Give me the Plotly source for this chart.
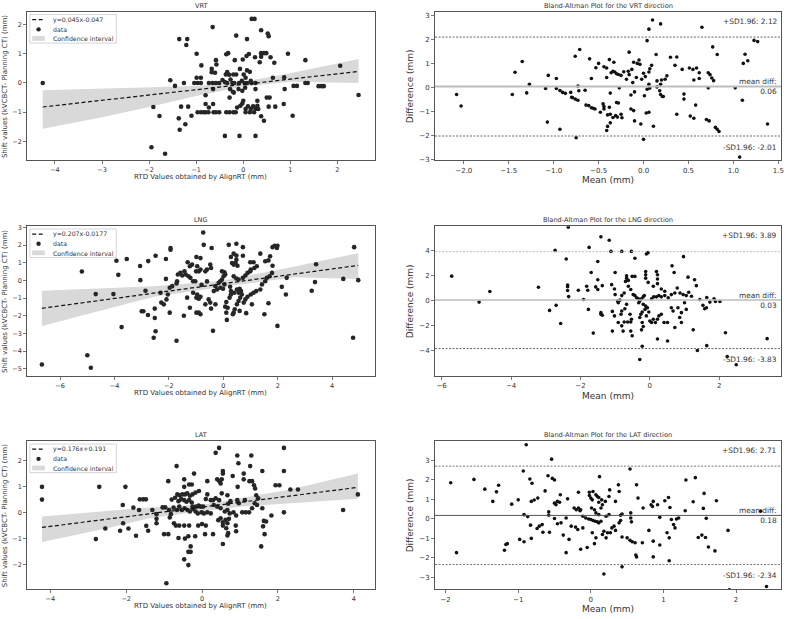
import plotly.graph_objects as go

W, H = 788, 619

# ---------------- data ----------------
# scatter panels: (RTD value by AlignRT, shift kVCBCT - planning CT)
vrt_pts = [
    (0.18, 2.19), (0.24, 2.19), (-0.65, 1.91), (0.38, 1.8), (-0.15, 1.62), (0.52, 1.69), (0.54, 1.6),
    (0.08, 1.5), (-1.36, 1.5), (-1.19, 1.5), (-1.21, 1.3), (-0.99, 1.0), (-0.36, 0.98), (-0.32, 1.02),
    (-0.18, 0.78), (-0.58, 0.78), (-0.01, 0.8), (0.07, 0.92), (0.12, 0.99), (0.25, 0.88), (0.38, 1.02),
    (0.44, 1.02), (0.49, 1.02), (0.38, 0.9), (0.58, 0.88), (0.35, 0.71), (0.66, 0.69), (0.95, 1.0),
    (-0.89, 0.6), (-0.57, 0.63), (-0.67, 0.48), (-0.67, 0.37), (-0.34, 0.37), (-0.37, 0.29), (-0.3, 0.28),
    (-0.6, 0.35), (-0.21, 0.29), (-0.15, 0.29), (-0.07, 0.48), (0.08, 0.43), (0.14, 0.38), (0.01, 0.29),
    (0.05, 0.18), (0.16, 0.07), (-0.99, 0.18), (-0.9, 0.18), (-1.45, -0.1), (-1.26, 0.0), (-1.04, 0.0),
    (-0.97, 0.0), (-0.9, 0.0), (-0.73, 0.0), (-0.65, 0.0), (-0.58, 0.0), (-0.51, 0.0), (-0.44, 0.1),
    (-0.39, 0.03), (-0.34, 0.0), (-0.27, 0.12), (-0.23, 0.0), (-0.19, 0.0), (-0.09, 0.0), (-0.03, 0.07),
    (0.03, 0.0), (0.08, 0.0), (0.18, 0.0), (0.26, 0.0), (0.63, 0.18), (-0.64, -0.21), (-0.28, -0.21),
    (-0.22, -0.3), (-0.1, -0.21), (-0.02, -0.27), (0.04, -0.16), (0.26, -0.21), (-0.29, -0.5), (-0.8, -0.42),
    (-0.2, -0.33), (0.88, -0.21), (1.07, -0.1), (1.14, -0.1), (0.3, -0.61), (0.3, -0.78), (0.5, -0.5),
    (0.56, -0.5), (0.0, -0.61), (-0.02, -0.7), (-1.32, -0.81), (-1.17, -0.81), (-1.1, -1.12), (-1.37, -1.21),
    (-1.23, -1.41), (-1.35, -1.6), (-0.8, -0.72), (-0.73, -0.84), (-0.64, -0.72), (-0.97, -1.0), (-0.9, -1.0),
    (-0.84, -1.0), (-0.8, -1.0), (-0.74, -1.0), (-0.63, -1.0), (-0.58, -1.0), (-0.51, -1.0), (-0.36, -1.0),
    (-0.29, -1.0), (-0.21, -1.0), (-0.16, -1.0), (-0.13, -0.84), (-0.06, -0.78), (0.05, -0.89), (0.1, -0.8),
    (0.16, -0.89), (0.21, -0.8), (0.26, -0.89), (0.32, -0.89), (0.05, -1.0), (0.14, -1.0), (0.23, -1.0),
    (0.38, -1.14), (0.44, -1.29), (0.54, -0.81), (0.68, -0.81), (0.86, -0.72), (1.05, -1.12), (-0.39, -1.81),
    (-0.08, -1.81), (0.26, -1.81), (0.87, 0.19),
    (-4.26, 0.0), (-1.91, -0.82), (-1.78, -1.13), (-1.95, -2.2), (-1.66, -2.42), (-1.55, 0.09), (1.32, 0.78),
    (1.32, 0.0), (1.37, 0.0), (1.6, -0.11), (1.66, -0.11), (1.71, -0.11), (2.06, 0.59), (2.45, -0.41),
]
lng_pts = [
    (-0.74, 2.72), (-1.94, 1.84), (-1.94, 1.74), (-0.72, 2.02), (-0.43, 1.84), (0.2, 2.02), (0.48, 2.08),
    (0.72, 1.89), (0.28, 1.33), (0.38, 1.52), (0.48, 1.42), (0.48, 1.18), (0.72, 1.4), (0.32, 0.99),
    (0.38, 0.9), (0.45, 0.99), (0.52, 0.84), (-0.99, 1.33), (-0.84, 1.27), (-2.11, 1.22), (1.36, 1.52),
    (1.81, 1.89), (1.89, 1.97), (1.97, 1.84), (1.99, 1.97), (1.72, 1.37), (1.66, 1.14), (1.81, 0.84),
    (1.54, 1.09), (1.11, 1.03), (0.99, 1.03), (1.23, 0.81), (1.14, 0.71), (1.01, 0.62), (-1.31, 1.03),
    (-1.15, 0.9), (-1.23, 0.81), (-0.96, 0.81), (-0.84, 0.62), (-0.9, 0.52), (-1.0, 0.52), (-0.48, 0.9),
    (-0.45, 0.71), (-0.6, 0.62), (-0.66, 0.52), (-0.05, 0.52), (0.04, 0.47), (0.07, 0.34), (0.01, 0.24),
    (-1.43, 0.52), (-1.58, 0.43), (-1.67, 0.34), (-1.51, 0.28), (-1.38, 0.34), (-1.28, 0.24), (-1.21, 0.15),
    (-1.11, -0.04), (-1.03, -0.04), (-2.11, 0.09), (-1.7, -0.04), (-1.72, -0.17), (-1.88, -0.32),
    (-1.97, -0.41), (-2.31, -0.69), (-2.28, -1.25), (-2.09, -1.07), (-2.04, -0.79), (-2.19, -1.35),
    (-1.97, -1.82), (-1.45, -2.0), (-1.72, -3.41), (-1.23, -1.54), (-0.99, -1.82), (-0.84, -1.91),
    (-0.9, -1.82), (-0.96, -0.79), (-0.84, -0.92), (-0.99, -0.97), (-0.9, -1.03), (-0.66, -1.35),
    (-0.54, -1.07), (-0.48, -1.25), (-0.45, -1.59), (-0.38, -2.85), (-0.29, -1.35), (-0.23, -0.51),
    (-0.29, -0.32), (-0.17, -0.13), (-0.11, -0.04), (-0.05, 0.06), (0.04, -0.22), (-0.11, -0.41),
    (-0.01, -0.47), (0.11, -1.22), (0.07, -1.48), (0.11, -1.82), (0.16, -1.54), (0.23, -0.97), (0.28, -0.79),
    (0.13, -2.23), (0.35, -1.91), (0.42, -1.63), (0.5, -1.35), (0.56, -1.16), (0.28, -0.6), (0.4, -0.69),
    (0.5, -0.51), (0.6, -0.47), (0.65, -0.6), (0.56, -0.69), (0.68, -0.79), (0.62, -0.97), (0.38, 0.24),
    (0.48, 0.11), (0.56, 0.06), (0.72, 0.15), (0.81, 0.28), (0.89, 0.43), (0.99, 0.52), (0.75, -1.25),
    (0.81, -1.07), (0.89, -0.92), (1.01, -0.79), (1.11, -0.69), (1.21, -0.6), (0.84, -1.85), (1.05, -1.35),
    (0.6, -1.72), (0.38, -1.82), (1.36, -0.51), (1.42, -0.22), (1.54, -0.04), (1.6, 0.15), (1.7, 0.24),
    (1.79, 0.43), (1.66, -1.29), (1.51, -1.91), (1.99, -2.57), (2.15, -0.36), (2.3, -0.79), (2.33, 0.15),
    (-1.11, -0.69), (-1.33, -0.97), (-0.8, -0.25), (-0.6, -0.05), (-0.35, -0.6), (0.25, -0.35),
    (-6.67, -4.76), (-5.2, 0.51), (-5.0, -4.23), (-4.87, -4.94), (-4.69, -0.77), (-4.04, -0.77), (-3.93, 1.12),
    (-3.86, 0.32), (-3.74, -2.64), (-3.55, 1.22), (-3.06, 0.82), (-3.05, 0.02), (-3.0, -1.74), (-2.94, -1.74),
    (-2.86, -0.58), (-2.77, -1.95), (-2.76, 1.1), (-2.52, -1.59), (-2.52, -2.12), (-2.49, -2.87),
    (-2.56, -3.24), (-2.49, 1.4), (3.25, -0.58), (3.37, -0.09), (3.41, 0.92), (4.41, 0.09), (4.81, 1.89),
    (4.77, -3.24), (4.96, 0.02),
]
lat_pts = [
    (0.45, 2.49), (0.36, 2.3), (0.93, 2.2), (1.3, 2.2), (0.96, 1.9), (1.27, 1.79), (-0.67, 1.79), (-0.21, 1.5),
    (0.55, 1.6), (0.55, 1.5), (0.81, 1.41), (1.1, 1.5), (1.1, 1.28), (1.59, 1.6), (2.16, 1.6), (2.16, 2.49),
    (-0.89, 1.21), (-0.47, 1.28), (-0.47, 0.99), (-0.34, 1.08), (-0.27, 1.08), (0.14, 1.21), (0.4, 1.28),
    (0.46, 1.21), (0.52, 1.28), (0.49, 1.12), (0.94, 0.99), (1.25, 1.21), (1.32, 1.21), (1.37, 1.05),
    (1.4, 0.93), (1.94, 1.05), (2.04, 1.05), (-0.65, 0.7), (-0.59, 0.67), (-0.52, 0.7), (-0.45, 0.7),
    (-0.39, 0.74), (-0.32, 0.65), (-0.25, 0.7), (-0.17, 0.77), (-0.08, 0.83), (-0.8, 0.5), (-0.71, 0.57),
    (-0.62, 0.44), (-0.55, 0.52), (-0.47, 0.48), (-0.41, 0.42), (-0.34, 0.48), (-0.27, 0.39), (0.14, 0.7),
    (0.1, 0.52), (0.23, 0.48), (0.29, 0.48), (0.36, 0.55), (0.45, 0.48), (0.52, 0.74), (0.67, 0.67),
    (0.75, 0.44), (0.69, 0.34), (0.93, 0.48), (1.13, 0.48), (0.97, 0.36), (1.43, 0.67), (1.48, 0.55),
    (-1.31, 0.1), (-1.04, 0.2), (-0.97, 0.2), (-1.2, -0.06), (-1.2, -0.24), (-1.2, -0.41), (-0.87, 0.1),
    (-0.82, -0.06), (-0.85, -0.19), (-0.75, 0.19), (-0.66, 0.1), (-0.6, 0.23), (-0.53, 0.1), (-0.46, 0.17),
    (-0.38, 0.1), (-0.32, 0.04), (-0.23, 0.14), (-0.17, 0.04), (-0.11, -0.03), (-0.01, 0.01), (0.05, -0.03),
    (0.14, 0.01), (0.23, -0.03), (-0.25, 0.23), (-0.16, 0.23), (-0.09, 0.27), (-0.03, 0.23), (0.03, 0.23),
    (0.31, 0.29), (0.4, 0.23), (0.49, 0.17), (0.6, 0.04), (0.67, 0.1), (0.73, -0.03), (0.83, 0.01),
    (0.9, -0.11), (1.06, 0.01), (1.15, 0.01), (1.24, 0.01), (1.32, 0.17), (1.39, 0.36), (1.45, 0.29),
    (1.59, 0.17), (1.63, -0.32), (1.69, -0.34), (1.61, -0.53), (1.65, -0.83), (1.83, -0.11), (2.16, 0.01),
    (-0.74, -0.41), (-0.69, -0.5), (-0.6, -0.5), (-0.47, -0.5), (-0.34, -0.5), (-0.1, -0.5), (0.0, -0.44),
    (0.1, -0.5), (0.43, -0.29), (0.49, -0.22), (0.55, -0.37), (0.62, -0.28), (0.67, -0.41), (0.71, -0.24),
    (0.55, -0.5), (0.64, -0.6), (0.69, -0.79), (0.67, -0.88), (0.89, -0.5), (-1.0, -0.83), (-0.89, -0.83),
    (-0.62, -0.98), (-0.45, -1.0), (-0.36, -0.91), (-0.18, -0.91), (0.08, -0.83), (0.29, -0.83),
    (0.55, -1.21), (-0.3, -1.3), (-0.36, -1.51), (-0.3, -1.51), (-0.47, -1.8), (-0.36, -2.02), (-0.94, -2.72),
    (1.56, -1.3), (0.9, -0.72),
    (-4.22, 0.99), (-4.22, 0.5), (-2.8, -1.02), (-2.71, 0.99), (-2.55, -0.61), (-2.16, -0.7), (-2.09, 0.29),
    (-2.08, -0.41), (-2.02, 0.99), (-1.94, -0.61), (-1.81, 0.19), (-1.74, -0.89), (-1.66, 0.1), (-1.64, 0.51),
    (-1.55, 0.51), (-1.48, 0.51), (-1.47, -0.51), (-1.42, -0.7), (3.72, 0.1), (4.11, 0.7), (2.33, 0.89),
    (2.53, 0.89),
]

# regression line (slope, intercept) as drawn, legend labels, confidence band
vrt_fit = (0.181, -0.05)
lng_fit = (0.209, -0.18)
lat_fit = (0.185, 0.21)
vrt_label = "y=0.045x-0.047"
lng_label = "y=0.207x-0.0177"
lat_label = "y=0.176x+0.191"
vrt_ci_x = [-4.26, -3.0, -2.0, -1.0, 0.0, 1.0, 2.45]
vrt_ci_lo = [-1.57, -1.17, -0.82, -0.45, -0.12, 0.04, 0.0]
vrt_ci_hi = [-0.25, -0.19, -0.14, -0.1, 0.04, 0.33, 0.82]
lng_ci_x = [-6.67, -4.0, -2.55, 0.0, 2.58, 4.96]
lng_ci_lo = [-2.58, -1.52, -0.92, -0.36, 0.18, 0.08]
lng_ci_hi = [-0.58, -0.42, -0.32, 0.0, 0.78, 1.55]
lat_ci_x = [-4.22, -2.5, -1.39, 0.0, 1.2, 2.29, 4.11]
lat_ci_lo = [-1.13, -0.6, -0.22, 0.06, 0.25, 0.36, 0.53]
lat_ci_hi = [-0.15, 0.05, 0.2, 0.3, 0.6, 0.88, 1.5]

# Bland-Altman panels: (mean, difference)
ba_vrt_pts = [
    (-1.06, 0.52), (-0.97, 0.39), (-0.97, -0.03), (-0.93, -0.11), (-0.9, -0.19), (-0.87, -0.23), (-0.81, -0.19),
    (-0.8, -0.39), (-0.79, -0.41), (-0.76, -0.47), (-0.73, -0.52), (-0.73, 0.08), (-0.72, -0.12), (-0.76, 1.32),
    (-0.71, 1.6), (-0.65, -0.1), (-0.6, 1.21), (-0.58, 0.39), (-0.64, -0.72), (-0.61, -0.74), (-0.58, -0.83),
    (-0.56, -0.85), (-0.54, -0.88), (-0.93, -1.73), (-0.75, -2.08), (-1.07, -1.43), (-0.53, 0.84), (-0.5, 1.02),
    (-0.44, 0.88), (-0.41, 0.83), (-0.38, 1.18), (-0.33, 1.07), (-0.41, 0.43), (-0.36, 0.63), (-0.34, 0.69),
    (-0.32, 0.66), (-0.3, 0.59), (-0.28, 0.56), (-0.25, 0.52), (-0.22, 0.67), (-0.37, -0.22), (-0.48, -1.02),
    (-0.44, -0.88), (-0.38, -0.81), (-0.3, -0.61), (-0.28, -0.63), (-0.45, -0.67), (-0.44, -0.78), (-0.4, -1.13),
    (-0.37, -1.1), (-0.34, -1.24), (-0.31, -1.16), (-0.29, -1.22), (-0.25, -1.1), (-0.24, -1.25), (-0.37, -1.46),
    (-0.4, -1.61), (-0.41, -1.78), (-0.27, 0.0), (-0.16, 1.49), (-0.19, 0.36), (-0.16, 0.55), (-0.17, 0.69),
    (-0.13, 0.77), (-0.11, 1.07), (-0.07, 1.02), (-0.05, 1.16), (-0.04, 0.98), (-0.14, -0.3), (-0.1, -0.17),
    (-0.14, -0.88), (-0.11, -0.95), (-0.1, -1.38), (-0.03, -1.51), (0.01, -0.33), (0.0, 0.61), (0.02, 0.47),
    (0.06, 0.66), (-0.02, 0.36), (0.04, 1.97), (0.06, 2.45), (0.1, 2.83), (0.19, 2.67), (0.07, 0.8), (0.09, 0.94),
    (0.14, 1.39), (0.06, 0.15), (0.04, -0.06), (0.07, -0.01), (0.03, -1.05), (0.06, -1.02), (0.11, -1.6),
    (0.15, 0.04), (0.18, -0.12), (0.19, -0.28), (0.21, -0.36), (0.22, -0.36), (0.15, 0.29), (0.2, 0.33),
    (0.24, 0.36), (0.26, 0.5), (0.19, 0.15), (0.0, -2.15), (0.3, 1.28), (0.35, 0.94), (0.37, 1.29), (0.43, 0.77),
    (0.37, -1.1), (0.45, -0.26), (0.45, -0.47), (0.51, 0.83), (0.55, 0.77), (0.56, 0.33), (0.59, 0.83),
    (0.62, 0.63), (0.62, 0.39), (0.52, -1.18), (0.56, -1.27), (0.58, -0.72), (0.65, 2.53), (0.72, 0.63),
    (0.74, 0.55), (0.76, 0.41), (0.72, 0.0), (0.78, 0.3), (0.7, -1.32), (0.73, -1.38), (0.77, 1.71), (0.82, 1.39),
    (0.8, -1.65), (0.82, -1.73), (0.84, -1.82), (-0.12, 0.22), (-0.08, 0.43),
    (-2.08, -0.28), (-2.03, -0.76), (-1.46, -0.28), (-1.43, 0.65), (-1.35, 1.1), (-1.3, -0.21), (-1.27, 0.15),
    (-1.09, -0.03), (1.02, 0.0), (1.1, -0.52), (1.11, 1.02), (1.13, 1.4), (1.16, 1.13), (1.07, -2.89),
    (1.23, 1.98), (1.27, 1.93), (1.38, -1.51),
]
ba_lng_pts = [
    (-1.41, 5.07), (-1.17, 4.8), (-1.75, 4.23), (-1.12, 3.91), (-0.81, 3.91), (-0.53, 3.91), (-0.1, 3.7),
    (-0.05, 3.81), (-0.43, 3.36), (-1.5, 3.1), (0.97, 3.49), (0.64, 2.76), (0.7, 2.23), (-1.69, 2.23),
    (-1.0, 2.23), (-0.67, 1.97), (-0.67, 1.78), (-0.51, 1.92), (-0.43, 1.92), (-0.12, 2.31), (-0.12, 2.05),
    (-0.12, 1.78), (-0.05, 1.44), (0.19, 2.31), (0.22, 2.05), (0.22, 1.71), (1.1, 1.86), (1.29, 1.65),
    (1.34, 1.18), (-2.06, 0.81), (-1.91, 0.08), (-1.82, 1.13), (-1.79, 0.81), (-1.77, -0.71), (-1.56, 1.08),
    (-1.5, 1.65), (-1.37, 1.18), (-1.5, 0.87), (-1.41, -0.97), (-1.37, -1.18), (-1.41, -1.1), (-1.63, -2.6),
    (-1.1, 1.26), (-1.02, 0.92), (-1.0, 0.47), (-0.93, -0.05), (-0.91, -0.18), (-0.86, 0.03), (-0.81, 0.39),
    (-0.74, 0.6), (-0.7, 1.52), (-0.62, 1.6), (-0.62, 1.13), (-0.55, 0.87), (-0.48, 0.47), (-0.67, -0.31),
    (-0.72, -0.66), (-0.81, -0.84), (-0.83, -1.1), (-1.08, -0.87), (-1.02, -1.23), (-0.91, -1.76),
    (-0.81, -2.02), (-0.74, -1.71), (-0.64, -1.71), (-0.55, -1.71), (-0.53, -1.5), (-0.57, -1.1),
    (-1.08, -2.44), (-0.77, -2.44), (-0.55, -2.44), (-0.51, -2.81), (-0.22, -3.65), (-0.29, -4.7),
    (0.22, -3.07), (0.51, -3.23), (0.72, -2.15), (0.91, -1.76), (1.25, -2.34), (1.37, -3.99), (1.44, 0.08),
    (1.53, -0.39), (1.58, -0.66), (1.63, -0.58), (1.64, -3.6),
    (-0.24, -2.34), (-0.19, -2.07), (-0.22, -1.76), (-0.29, -1.36), (-0.26, -1.1), (-0.22, -0.92),
    (-0.14, -0.71), (-0.07, -0.58), (-0.03, -0.92), (-0.1, -1.23), (0.0, -1.63), (0.05, -1.76), (0.1, -1.49),
    (0.16, -1.76), (0.22, -1.49), (0.26, -1.23), (0.33, -1.1), (0.41, -1.76), (0.51, -1.76), (-0.32, -0.18),
    (-0.19, -0.31), (-0.12, -0.45), (0.05, 0.13), (0.11, 0.29), (0.19, 0.29), (0.26, 0.39), (0.33, 0.29),
    (0.43, 0.39), (0.53, 0.21), (0.62, 0.47), (0.72, 0.6), (0.79, 1.0), (0.87, 0.6), (0.96, 0.47), (1.05, 0.39),
    (1.12, 0.66), (1.2, 0.34), (1.0, -0.18), (1.05, -0.71), (0.91, -0.97), (0.81, -0.58), (0.86, -1.36),
    (0.67, -0.84), (0.62, -0.58), (-0.43, 0.39), (-0.38, 0.21), (-0.33, 0.13), (-0.29, -0.05), (-0.24, 0.13),
    (-0.19, 0.29), (-0.16, 0.39), (0.1, 1.13), (0.22, 1.34), (0.33, 0.92), (0.43, 0.73),
    (-5.71, 1.94), (-4.92, -0.13), (-4.61, 0.71), (-3.21, 1.05), (-2.89, -0.79), (-2.7, -0.39), (-2.73, 3.99),
    (-2.57, -1.84), (-2.41, 3.3), (-2.35, 5.83), (-2.37, 1.23), (-2.37, 1.1), (-2.37, 0.79), (-2.34, 0.31),
    (1.64, 0.24), (1.73, -0.13), (1.85, 0.13), (1.89, -0.08), (2.02, -0.08), (2.18, -2.57), (2.23, -4.46),
    (2.49, -5.12), (3.38, -3.04),
]
ba_lat_pts = [
    (-0.89, 3.81), (-0.54, 3.07), (-1.09, 0.76), (-1.0, 0.98), (-0.93, 2.46), (-0.84, 2.05), (-0.81, 1.83),
    (-0.82, 0.9), (-0.78, 0.97), (-0.73, 1.07), (-0.92, 0.22), (-0.87, 0.12), (-0.83, -0.32), (-0.74, -0.49),
    (-0.71, -0.37), (-0.67, -0.29), (-0.66, -0.68), (-0.57, -0.68), (-0.98, -1.05), (-0.92, -1.17),
    (-0.82, -1.0), (-1.17, -1.31), (-0.63, 1.44), (-0.59, 2.22), (-0.53, 2.08), (-0.5, 2.0), (-0.58, 0.36),
    (-0.58, 0.19), (-0.5, 0.81), (-0.48, 0.73), (-0.46, 0.9), (-0.43, 0.86), (-0.42, 1.24), (-0.5, 0.02),
    (-0.46, -0.25), (-0.41, -0.2), (-0.38, -0.83), (-0.34, -1.73), (-0.34, 0.05), (-0.32, 1.03), (-0.3, -1.05),
    (-0.23, 0.56), (-0.2, 0.47), (-0.17, 0.56), (-0.15, 0.42), (-0.14, 0.47), (-0.27, -0.37), (-0.21, -0.42),
    (-0.18, -0.54), (-0.11, -0.46), (-0.17, 1.37), (-0.14, -1.56), (-0.05, -1.47), (-0.11, 0.14), (-0.07, 0.05),
    (-0.03, 0.0), (0.0, -0.03), (0.03, -0.08), (0.06, -0.12), (0.09, -0.15), (0.11, -0.2), (0.14, -0.12),
    (-0.02, 1.37), (-0.02, 1.2), (0.0, 1.07), (0.02, 0.98), (0.03, 1.41), (0.07, 1.24), (0.09, 1.15),
    (0.11, 1.1), (0.11, 0.86), (0.15, 0.98), (0.16, 0.73), (0.14, 0.56), (0.01, 0.56), (0.05, 0.47),
    (0.07, 0.31), (0.11, 0.22), (0.02, -0.71), (0.07, -0.97), (0.05, -1.27), (0.12, 2.17), (0.16, -0.8),
    (0.18, -0.63), (0.21, -0.97), (0.23, -0.71), (0.25, 0.22), (0.21, 0.14), (0.2, 0.9), (0.18, -2.83),
    (0.26, 1.49), (0.25, 1.15), (0.29, -0.46), (0.27, -0.71), (0.32, -0.37), (0.34, -0.59), (0.39, -0.2),
    (0.41, -0.08), (0.34, 0.9), (0.38, 1.75), (0.39, 1.41), (0.41, 0.19), (0.43, 0.25), (0.43, -0.93),
    (0.43, -2.46), (0.55, 0.31), (0.55, 0.05), (0.56, -0.15), (0.54, 2.56), (0.5, -0.97), (0.54, -1.1),
    (0.57, -1.17), (0.61, -1.22), (0.63, 1.75), (0.65, 1.07), (0.62, -1.85), (0.63, -1.95), (0.71, -1.22),
    (0.72, 0.56), (0.8, -0.59), (0.83, 0.73), (0.86, 0.9), (0.85, 0.64), (0.92, 0.73), (0.86, -1.14),
    (0.86, -1.95), (0.95, -1.34), (0.95, 0.08), (1.02, 0.93), (1.07, 1.1), (1.09, 0.59), (1.11, -0.03),
    (1.05, -0.71), (1.08, -0.97), (1.08, -2.15), (1.14, -0.29), (1.16, -0.46), (1.18, 0.0), (1.21, 0.05),
    (-1.93, 1.86), (-1.85, -1.73), (-1.61, 2.03), (-1.46, 1.53), (-1.35, 0.9), (-1.3, 1.39), (-1.27, 1.73),
    (-1.19, -1.61), (-1.15, -1.27), (1.3, 0.42), (1.31, 2.0), (1.41, 0.88), (1.44, 2.12), (1.48, -0.95),
    (1.53, -0.83), (1.55, 0.54), (1.56, 1.31), (1.58, -0.95), (1.59, 0.03), (1.62, -1.44), (1.71, -1.64),
    (1.73, 0.93), (1.89, -0.59), (2.34, 0.4), (1.91, -3.64), (2.42, -3.47),
]
ba_mean = [0.06, 0.03, 0.18]
ba_upper = [2.12, 3.89, 2.71]
ba_lower = [-2.01, -3.83, -2.34]

scatter_titles = ["VRT", "LNG", "LAT"]
ba_titles = ["Bland-Altman Plot for the VRT direction",
             "Bland-Altman Plot for the LNG direction",
             "Bland-Altman Plot for the LAT direction"]

# axis ranges and tick values
sc_xrange = [[-4.59, 2.79], [-7.21, 5.56], [-4.61, 4.55]]
sc_yrange = [[-2.65, 2.43], [-5.41, 3.07], [-2.95, 2.74]]
sc_xticks = [[-4, -3, -2, -1, 0, 1, 2], [-6, -4, -2, 0, 2, 4], [-4, -2, 0, 2, 4]]
sc_yticks = [[-2, -1, 0, 1, 2], [-5, -4, -3, -2, -1, 0, 1, 2, 3], [-2, -1, 0, 1, 2]]
ba_xrange = [[-2.32, 1.53], [-6.19, 3.78], [-2.146, 2.62]]
ba_yrange = [[-3.03, 3.17], [-6.02, 5.91], [-3.61, 3.98]]
ba_xticks = [[-2.0, -1.5, -1.0, -0.5, 0.0, 0.5, 1.0, 1.5], [-6, -4, -2, 0, 2], [-2, -1, 0, 1, 2]]
ba_yticks = [[-3, -2, -1, 0, 1, 2, 3], [-4, -2, 0, 2, 4], [-3, -2, -1, 0, 1, 2, 3]]
ba_xfmt = [".1f", "d", "d"]

# ---------------- layout geometry (pixels) ----------------
LEFT_PX = (27.3, 376.0)
RIGHT_PX = (436.7, 784.0)
ROWS_PX = [(10.0, 160.0), (226.5, 377.7), (443.7, 593.0)]

FONT = "DejaVu Sans"
TXT = "#333333"
AX = "#555555"

fig = go.Figure()
layout = dict(width=W, height=H, margin=dict(l=0, r=0, t=0, b=0),
              paper_bgcolor="white", plot_bgcolor="white", showlegend=False,
              font=dict(family=FONT, color=TXT))
shapes = []
annotations = []


def axis_common(dom, rng, ticks, fsize, fmt=None):
    d = dict(domain=dom, range=rng, tickvals=ticks, showgrid=False, zeroline=False,
             showline=True, mirror=True, linecolor=AX, linewidth=1,
             ticks="outside", ticklen=3, tickwidth=0.8, tickcolor=AX,
             tickfont=dict(family=FONT, size=fsize, color=TXT))
    if fmt:
        d["tickformat"] = fmt
    return d


for r in range(3):
    top, bot = ROWS_PX[r]
    ydom = [1 - bot / H, 1 - top / H]
    fh = bot - top
    for c in range(2):
        idx = r * 2 + c + 1
        sfx = "" if idx == 1 else str(idx)
        xa, ya = "x" + sfx, "y" + sfx
        xpx = LEFT_PX if c == 0 else RIGHT_PX
        xdom = [xpx[0] / W, xpx[1] / W]
        fw = xpx[1] - xpx[0]
        xref_d, yref_d = xa + " domain", ya + " domain"

        if c == 0:
            pts = [vrt_pts, lng_pts, lat_pts][r]
            slope, icpt = [vrt_fit, lng_fit, lat_fit][r]
            cix = [vrt_ci_x, lng_ci_x, lat_ci_x][r]
            cil = [vrt_ci_lo, lng_ci_lo, lat_ci_lo][r]
            cih = [vrt_ci_hi, lng_ci_hi, lat_ci_hi][r]
            label = [vrt_label, lng_label, lat_label][r]
            xs = [p[0] for p in pts]
            ys = [p[1] for p in pts]
            # confidence band
            fig.add_trace(go.Scatter(x=cix, y=cil, mode="lines", line=dict(width=0),
                                     xaxis=xa, yaxis=ya, hoverinfo="skip"))
            fig.add_trace(go.Scatter(x=cix, y=cih, mode="lines", line=dict(width=0),
                                     fill="tonexty", fillcolor="#d9d9d9",
                                     xaxis=xa, yaxis=ya, hoverinfo="skip"))
            # points
            fig.add_trace(go.Scatter(x=xs, y=ys, mode="markers",
                                     marker=dict(size=4.6, color="#262626"),
                                     xaxis=xa, yaxis=ya))
            # fitted line
            lx = [min(xs), max(xs)]
            fig.add_trace(go.Scatter(x=lx, y=[slope * v + icpt for v in lx], mode="lines",
                                     line=dict(color="#111111", width=1.2, dash="4px,2.5px"),
                                     xaxis=xa, yaxis=ya))
            layout["xaxis" + sfx] = axis_common(xdom, sc_xrange[r], sc_xticks[r], 6.5)
            layout["yaxis" + sfx] = axis_common(ydom, sc_yrange[r], sc_yticks[r], 6.5)
            layout["xaxis" + sfx]["anchor"] = ya
            layout["yaxis" + sfx]["anchor"] = xa

            # legend box (manual)
            def fx(px):
                return px / fw

            def fy(py):
                return 1 - py / fh

            shapes.append(dict(type="rect", xref=xref_d, yref=yref_d, x0=fx(2.7), x1=fx(89.5),
                               y0=fy(2.7), y1=fy(31.5), line=dict(color="#cccccc", width=0.8),
                               fillcolor="rgba(255,255,255,0.85)", layer="above"))
            shapes.append(dict(type="line", xref=xref_d, yref=yref_d, x0=fx(5), x1=fx(17),
                               y0=fy(7.8), y1=fy(7.8),
                               line=dict(color="#111111", width=1.2, dash="4px,2.5px"), layer="above"))
            shapes.append(dict(type="circle", xref=xref_d, yref=yref_d, x0=fx(9.2), x1=fx(13.6),
                               y0=fy(15.4), y1=fy(19.8), line=dict(width=0),
                               fillcolor="#262626", layer="above"))
            shapes.append(dict(type="rect", xref=xref_d, yref=yref_d, x0=fx(5), x1=fx(17.7),
                               y0=fy(24.4), y1=fy(29.2), line=dict(width=0),
                               fillcolor="#d9d9d9", layer="above"))
            for txt, py in [(label, 7.8), ("data", 17.6), ("Confidence interval", 26.8)]:
                annotations.append(dict(text=txt, xref=xref_d, yref=yref_d, x=0, y=1,
                                        xshift=23.7, yshift=-py, xanchor="left", yanchor="middle",
                                        showarrow=False, font=dict(size=6.2, color=TXT)))
            title = scatter_titles[r]
            xtitle = "RTD Values obtained by AlignRT (mm)"
            ytitle = "Shift values (kVCBCT- Planning CT) (mm)"
            tsize, ax_tsize = 6.5, 7
            xt_shift, yt_shift = -16.8, -22.3
        else:
            pts = [ba_vrt_pts, ba_lng_pts, ba_lat_pts][r]
            xs = [p[0] for p in pts]
            ys = [p[1] for p in pts]
            fig.add_trace(go.Scatter(x=xs, y=ys, mode="markers",
                                     marker=dict(size=3.6, color="#111111"),
                                     xaxis=xa, yaxis=ya))
            layout["xaxis" + sfx] = axis_common(xdom, ba_xrange[r], ba_xticks[r], 7, ba_xfmt[r])
            layout["yaxis" + sfx] = axis_common(ydom, ba_yrange[r], ba_yticks[r], 7)
            layout["xaxis" + sfx]["anchor"] = ya
            layout["yaxis" + sfx]["anchor"] = xa
            mean_col = ["#bdbdbd", "#bdbdbd", "#555555"][r]
            mean_w = [2.0, 1.5, 1.0][r]
            up_col = ["#555555", "#b5b5b5", "#666666"][r]
            lo_col = ["#555555", "#555555", "#666666"][r]
            shapes.append(dict(type="line", xref=xref_d, yref=ya, x0=0, x1=1,
                               y0=ba_mean[r], y1=ba_mean[r], line=dict(color=mean_col, width=mean_w)))
            shapes.append(dict(type="line", xref=xref_d, yref=ya, x0=0, x1=1,
                               y0=ba_upper[r], y1=ba_upper[r],
                               line=dict(color=up_col, width=0.9, dash="2px,1.5px")))
            shapes.append(dict(type="line", xref=xref_d, yref=ya, x0=0, x1=1,
                               y0=ba_lower[r], y1=ba_lower[r],
                               line=dict(color=lo_col, width=0.9, dash="2px,1.5px")))
            annotations.append(dict(text="+SD1.96: %.2f" % ba_upper[r], xref=xref_d, yref=ya,
                                    x=1, y=ba_upper[r], xshift=-2.5, yshift=16, xanchor="right",
                                    yanchor="middle", showarrow=False, font=dict(size=7.4, color=TXT)))
            annotations.append(dict(text="mean diff:<br>%.2f" % ba_mean[r], xref=xref_d, yref=ya,
                                    x=1, y=ba_mean[r], xshift=-2.5, yshift=0, xanchor="right",
                                    yanchor="middle", align="right", showarrow=False,
                                    font=dict(size=7.4, color=TXT)))
            annotations.append(dict(text="-SD1.96: %.2f" % ba_lower[r], xref=xref_d, yref=ya,
                                    x=1, y=ba_lower[r], xshift=-2.5, yshift=-11, xanchor="right",
                                    yanchor="middle", showarrow=False, font=dict(size=7.4, color=TXT)))
            title = ba_titles[r]
            xtitle = "Mean (mm)"
            ytitle = "Difference (mm)"
            tsize, ax_tsize = 6.6, 9
            xt_shift, yt_shift = -19.8, -25

        # subplot title and axis titles
        annotations.append(dict(text=title, xref=xref_d, yref=yref_d, x=0.5, y=1, yshift=6,
                                xanchor="center", yanchor="middle", showarrow=False,
                                font=dict(size=tsize, color=TXT)))
        annotations.append(dict(text=xtitle, xref=xref_d, yref=yref_d, x=0.5, y=0, yshift=xt_shift,
                                xanchor="center", yanchor="middle", showarrow=False,
                                font=dict(size=ax_tsize, color=TXT)))
        annotations.append(dict(text=ytitle, xref=xref_d, yref=yref_d, x=0, y=0.5, xshift=yt_shift,
                                xanchor="center", yanchor="middle", textangle=-90, showarrow=False,
                                font=dict(size=ax_tsize, color=TXT)))

layout["shapes"] = shapes
layout["annotations"] = annotations
fig.update_layout(**layout)
fig.write_html("out.html",
               config={"displayModeBar": False, "staticPlot": True},
               post_script="document.body.style.margin='0';document.body.style.overflow='hidden';")
